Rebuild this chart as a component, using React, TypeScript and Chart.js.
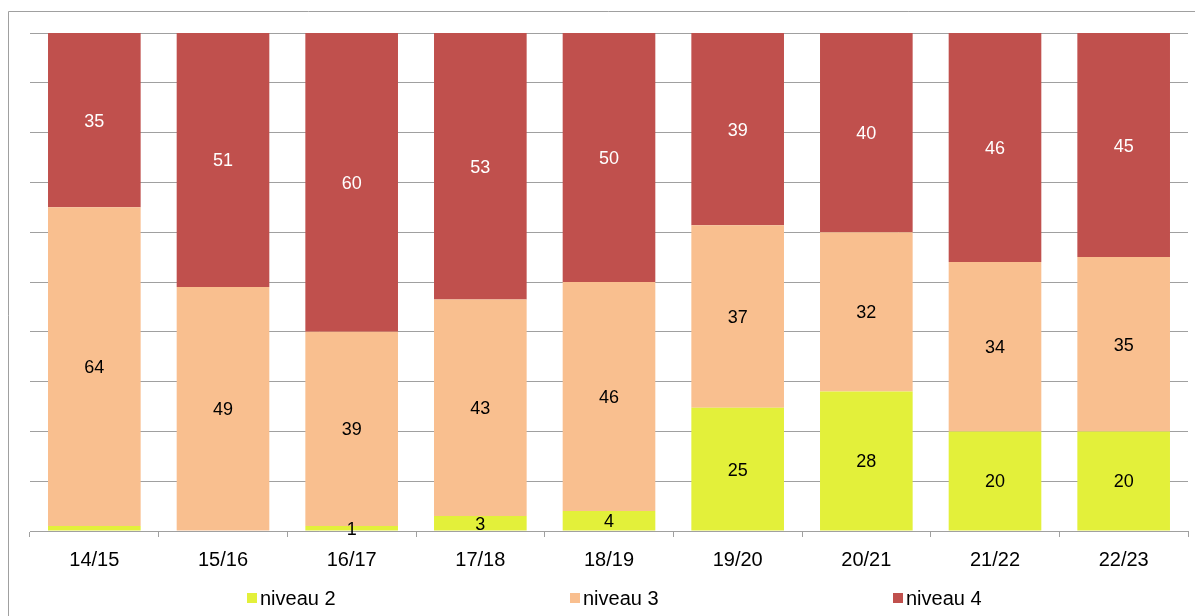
import React, { useEffect, useRef } from "react";
import { Chart, registerables } from "chart.js";

Chart.register(...registerables);

const categories = ["14/15", "15/16", "16/17", "17/18", "18/19", "19/20", "20/21", "21/22", "22/23"];
const niveau2 = [1, 0, 1, 3, 4, 25, 28, 20, 20];
const niveau3 = [64, 49, 39, 43, 46, 37, 32, 34, 35];
const niveau4 = [35, 51, 60, 53, 50, 39, 40, 46, 45];
const seriesNames = ["niveau 2", "niveau 3", "niveau 4"];
const seriesColors = ["#E3F03A", "#F9BF8F", "#C0504D"];
const labelColors = ["#000000", "#000000", "#FFFFFF"];
// value labels not shown in the original for these [series, category] pairs
const hiddenLabels = [[0, 0], [0, 1]];

const FONT = "'Liberation Sans', Arial, sans-serif";

export default function App() {
  const ref = useRef<HTMLCanvasElement | null>(null);

  useEffect(() => {
    document.body.style.overflow = "hidden";
    const canvas = ref.current;
    if (!canvas) return;
    const raw = [niveau2, niveau3, niveau4];
    const totals = categories.map((_, i) => raw.reduce((s, arr) => s + arr[i], 0));
    const pct = raw.map((arr) => arr.map((v, i) => (v / totals[i]) * 100));

    const decor = {
      id: "decor",
      beforeDraw(chart: any) {
        const ctx = chart.ctx;
        ctx.save();
        ctx.fillStyle = "#fff";
        ctx.fillRect(0, 0, chart.width, chart.height);
        ctx.strokeStyle = "#a0a0a0";
        ctx.lineWidth = 1;
        ctx.beginPath();
        ctx.moveTo(0.5, chart.height);
        ctx.lineTo(0.5, 3.5);
        ctx.lineTo(chart.width, 3.5);
        ctx.stroke();
        ctx.restore();
      },
      afterDatasetsDraw(chart: any) {
        const ctx = chart.ctx;
        ctx.save();
        ctx.font = `18px ${FONT}`;
        ctx.textAlign = "center";
        ctx.textBaseline = "middle";
        raw.forEach((arr, si) => {
          const meta = chart.getDatasetMeta(si);
          arr.forEach((v, ci) => {
            if (hiddenLabels.some(([a, b]) => a === si && b === ci)) return;
            const el = meta.data[ci] as any;
            const y = (el.y + el.base) / 2 + 1.5;
            ctx.fillStyle = labelColors[si];
            ctx.fillText(String(v), el.x, y);
          });
        });
        ctx.restore();
      },
      afterDraw(chart: any) {
        const ctx = chart.ctx;
        const ca = chart.chartArea;
        const cx = (ca.left + ca.right) / 2;
        const y = 590;
        ctx.save();
        ctx.font = `20px ${FONT}`;
        ctx.textAlign = "left";
        ctx.textBaseline = "middle";
        seriesNames.forEach((name, i) => {
          const bx = cx - 362 + i * 323;
          ctx.fillStyle = seriesColors[i];
          ctx.fillRect(bx, y - 5, 10, 10);
          ctx.fillStyle = "#000";
          ctx.fillText(name, bx + 13, y + 1);
        });
        ctx.restore();
      },
    };

    const chart = new Chart(canvas, {
      type: "bar",
      data: {
        labels: categories,
        datasets: seriesNames.map((name, i) => ({
          label: name,
          data: pct[i],
          backgroundColor: seriesColors[i],
          borderWidth: 0,
          categoryPercentage: 1,
          barPercentage: 0.72,
        })),
      },
      options: {
        animation: false,
        responsive: false,
        maintainAspectRatio: false,
        layout: { padding: { top: 25, left: 22, right: 20, bottom: 37 } },
        plugins: { legend: { display: false }, tooltip: { enabled: false } },
        scales: {
          x: {
            stacked: true,
            grid: { drawOnChartArea: false, drawTicks: true, tickLength: 6, color: "#a0a0a0" },
            border: { color: "#a0a0a0" },
            ticks: { color: "#000", font: { family: FONT, size: 20 }, padding: 11, maxRotation: 0 },
          },
          y: {
            stacked: true,
            min: 0,
            max: 100,
            grid: { drawTicks: false, color: "#a0a0a0" },
            border: { display: false },
            ticks: { display: false, stepSize: 10 },
          },
        },
      },
      plugins: [decor],
    });
    return () => chart.destroy();
  }, []);

  return (
    <div style={{ width: 1200, height: 612 }}>
      <canvas ref={ref} width={1200} height={612} style={{ display: "block" }} />
    </div>
  );
}
